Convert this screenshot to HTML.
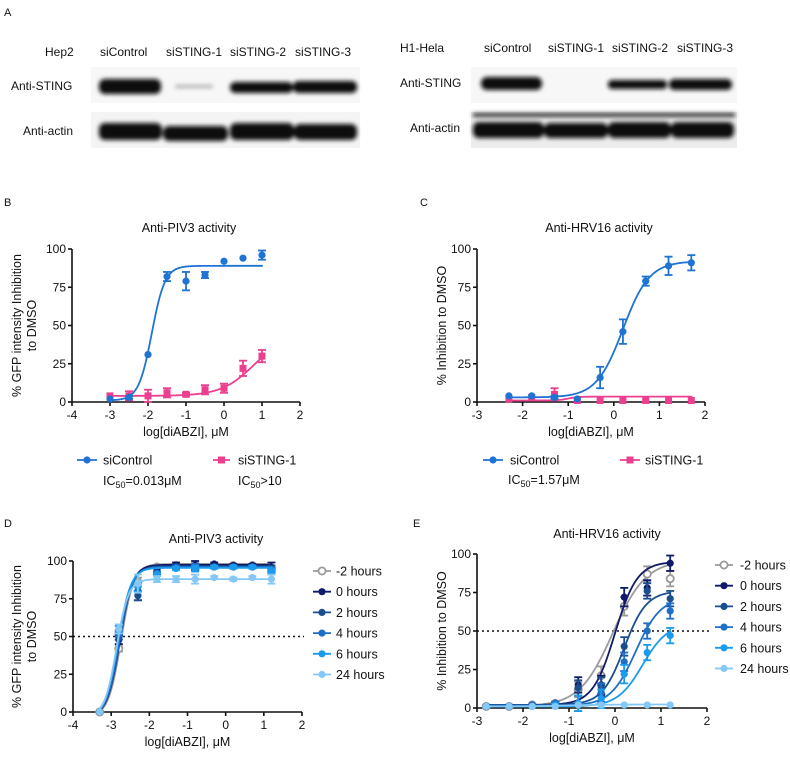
<!DOCTYPE html>
<html><head><meta charset="utf-8">
<style>
html,body{margin:0;padding:0;background:#fff;}
body{width:790px;height:754px;overflow:hidden;font-family:"Liberation Sans",Arial,sans-serif;}
svg text{font-family:"Liberation Sans",Arial,sans-serif;}
</style></head>
<body>
<svg id="fig" width="790" height="754" viewBox="0 0 790 754" xmlns="http://www.w3.org/2000/svg">
<defs>
<filter id="blur2" x="-20%" y="-50%" width="140%" height="200%"><feGaussianBlur stdDeviation="2"/></filter>
</defs>
<!-- Panel A -->
<g font-size="12" fill="#111">
<text x="4" y="16" font-size="11">A</text>
<text x="45" y="56">Hep2</text>
<text x="100" y="56">siControl</text>
<text x="166" y="56">siSTING-1</text>
<text x="230" y="56">siSTING-2</text>
<text x="295" y="56">siSTING-3</text>
<text x="11" y="90">Anti-STING</text>
<text x="23" y="135">Anti-actin</text>
<g>
<rect x="91" y="67" width="269" height="36" fill="#f7f7f7"/>
<g filter="url(#blur2)" fill="#0a0a0a">
<rect x="99" y="79" width="62" height="15" rx="6"/>
<rect x="175" y="85" width="38" height="3" rx="1.5" fill="#aaa"/>
<rect x="230" y="82" width="63" height="11" rx="5"/>
<rect x="293" y="81" width="64" height="12" rx="5"/>
</g></g>
<g>
<rect x="91" y="112" width="269" height="36" fill="#f4f4f4"/>
<g filter="url(#blur2)" fill="#0a0a0a">
<rect x="99" y="123" width="63" height="17" rx="6"/>
<rect x="163" y="126" width="65" height="15" rx="6"/>
<rect x="230" y="123" width="64" height="17" rx="6"/>
<rect x="294" y="124" width="63" height="16" rx="6"/>
</g></g>
<text x="400" y="52">H1-Hela</text>
<text x="484" y="52">siControl</text>
<text x="548" y="52">siSTING-1</text>
<text x="612" y="52">siSTING-2</text>
<text x="677" y="52">siSTING-3</text>
<text x="400" y="87">Anti-STING</text>
<text x="410" y="132">Anti-actin</text>
<g>
<rect x="471" y="67" width="266" height="36" fill="#f7f7f7"/>
<g filter="url(#blur2)" fill="#0a0a0a">
<rect x="481" y="77" width="61" height="13" rx="6"/>
<rect x="608" y="80" width="59" height="9" rx="4"/>
<rect x="669" y="79" width="63" height="11" rx="5"/>
</g></g>
<g>
<rect x="471" y="112" width="266" height="36" fill="#ececec"/>
<g filter="url(#blur2)" fill="#0a0a0a">
<rect x="473" y="113" width="262" height="4" fill="#333"/>
<rect x="473" y="122" width="71" height="16" rx="6"/>
<rect x="544" y="123" width="64" height="15" rx="6"/>
<rect x="608" y="122" width="63" height="16" rx="6"/>
<rect x="671" y="122" width="63" height="16" rx="6"/>
</g></g>
</g>
</svg>
<script>
// ===== Panel B data =====
const bX = [-3,-2.5,-2,-1.5,-1,-0.5,0,0.5,1];
const bCtrlY = [2,3,31,82,79,83,92,94,96];
const bCtrlErr = [0,1,0,3,6,2,0,0,3];
const bStingY = [4,4,4,6,5,8,9,22,30];
const bStingErr = [0,3,4,3,1,3,3,5,4];
const bCtrlFit = [1,89,-1.9,2.5];    // bottom, top, logIC50, hill
const bStingFit = [4,45,0.8,1];
const bXTicks = [-4,-3,-2,-1,0,1,2];
const yTicks = [0,25,50,75,100];
// ===== Panel C data =====
const cX = [-2.3,-1.8,-1.3,-0.8,-0.3,0.2,0.7,1.2,1.7];
const cCtrlY = [4,4,3,2,16,46,79,89,91];
const cCtrlErr = [0,0,1,0,7,8,3,6,5];
const cStingY = [2,3,5,1,1,1,1,1,1];
const cStingErr = [0,0,4,0,0,0,0,0,0];
const cCtrlFit = [3,92,0.2,1.5];
const cStingFit = [1,3.5,-1,4];
const cXTicks = [-3,-2,-1,0,1,2];
// ===== Panel D data =====
const dX = [-3.3,-2.8,-2.3,-1.8,-1.3,-0.8,-0.3,0.2,0.7,1.2];
const dLabels = ["-2 hours","0 hours","2 hours","4 hours","6 hours","24 hours"];
const dM2 = [0,42,86,96,97,97,97,97,97,95];
const d0 = [0,48,80,93,97,97,98,97,97,96];
const d2 = [0,50,77,92,96,96,96,96,96,95];
const d4 = [0,52,83,92,96,96,96,96,96,94];
const d6 = [0,55,83,91,95,95,96,96,96,93];
const d24 = [0,55,85,88,88,88,89,88,89,88];
const dErr = [0,3,6,2,2,3,1,1,1,3];
const dFits = [[-3,98,-2.74,2.6],[-3,97.5,-2.77,2.6],[-3,96.5,-2.78,2.6],[-3,96,-2.79,2.6],[-3,95.5,-2.82,2.6],[-3,88,-2.86,2.8]];
const dXTicks = [-4,-3,-2,-1,0,1,2];
// ===== Panel E data =====
const eX = [-2.8,-2.3,-1.8,-1.3,-0.8,-0.3,0.2,0.7,1.2];
const eM2 = [1,1,2,3,12,21,66,87,84];
const e0 = [1,1,2,3,15,15,72,78,94];
const e2 = [1,1,2,3,13,14,40,76,71];
const e4 = [1,1,2,3,3,10,30,50,63];
const e6 = [1,1,1,2,3,6,22,36,47];
const e24 = [1,1,1,1,2,2,2,2,2];
const eErr = [0,0,0,1,5,6,6,5,5];
const eFits = [[1,96,-0.05,1.2],[2,95,0.0,1.8],[2,76,0.2,1.8],[1.5,72,0.45,1.6],[1,55,0.6,1.6],[1,2.3,-1,1]];
const eXTicks = [-3,-2,-1,0,1,2];

const BLUE="#1f73d2", PINK="#ec3f8f";
const TCOL=["#9a9a9a","#101a6a","#1a4f8f","#1d6fc8","#1b9bee","#85c8f5"];
const NS="http://www.w3.org/2000/svg";
const fig=document.getElementById('fig');
function mk(tag,attrs,parent){const e=document.createElementNS(NS,tag);for(const k in attrs)e.setAttribute(k,attrs[k]);(parent||fig).appendChild(e);return e;}
function txt(s,attrs,parent){const e=mk('text',attrs,parent);e.textContent=s;return e;}
function logistic(f,x){return f[0]+(f[1]-f[0])/(1+Math.pow(10,(f[2]-x)*f[3]));}

function panel(o){
  const g=mk('g',{});
  
  
  const sx=v=>o.x0+(v-o.xmin)/(o.xmax-o.xmin)*(o.x1-o.x0);
  const sy=v=>o.y0-(v/100)*(o.y0-o.y1);
  const lab=txt(o.letter,{x:o.lx,y:o.ly,'font-size':11,fill:'#111'},g);
  
  
  const t=txt(o.title,{x:o.tx,y:o.ty,'font-size':12.5,'text-anchor':'middle',fill:'#111'},g);
  
  
  const ax=mk('g',{stroke:'#111','stroke-width':1.6,fill:'none'},g);
  
  
  mk('line',{x1:o.x0,y1:o.y1,x2:o.x0,y2:o.y0},ax);
  mk('line',{x1:o.x0,y1:o.y0,x2:o.x1,y2:o.y0},ax);
  o.xticks.forEach(v=>{
    mk('line',{x1:sx(v),y1:o.y0,x2:sx(v),y2:o.y0+4},ax);
    const tl=txt(String(v),{x:sx(v),y:o.y0+17,'font-size':12,'text-anchor':'middle',fill:'#111',stroke:'none'},g);
    
    
  });
  yTicks.forEach(v=>{
    mk('line',{x1:o.x0-4,y1:sy(v),x2:o.x0,y2:sy(v)},ax);
    const tl=txt(String(v),{x:o.x0-6,y:sy(v)+4,'font-size':12,'text-anchor':'end',fill:'#111'},g);
    
    
  });
  const xt=txt('log[diABZI], μM',{x:(o.x0+o.x1)/2,y:o.y0+34,'font-size':12.5,'text-anchor':'middle',fill:'#111'},g);
  
  
  const yt=mk('text',{transform:`translate(${o.yx},${(o.y0+o.y1)/2}) rotate(-90)`,'font-size':12.5,'text-anchor':'middle',fill:'#111'},g);
  
  
  o.ytitle.forEach((s,i)=>{const ts=mk('tspan',{x:0,dy:i===0?(o.ytitle.length>1?-3:4):15},yt);ts.textContent=s;});
  if(o.dotted){
    const dl=mk('line',{x1:o.x0,y1:sy(50),x2:o.x1+2,y2:sy(50),stroke:'#111','stroke-width':1.4,'stroke-dasharray':'2,3'},g);
    
    
  }
  o.series.slice().reverse().forEach(s=>{
    const sg=mk('g',{},g);
    
    
    let d='';
    const xa=s.x[0]-0.02, xb=s.x[s.x.length-1]+0.02;
    for(let i=0;i<=160;i++){const xv=xa+(xb-xa)*i/160;d+=(i?'L':'M')+sx(xv).toFixed(2)+','+sy(Math.max(0,logistic(s.fit,xv))).toFixed(2);}
    const p=mk('path',{d:d,stroke:s.color,'stroke-width':1.8,fill:'none'},sg);
    
    
    s.x.forEach((xv,i)=>{
      const cx=sx(xv),cy=sy(s.y[i]),e=s.err[i];
      if(e>0){
        const eg=mk('g',{stroke:s.color,'stroke-width':1.8},sg);
        
        
        mk('line',{x1:cx,y1:sy(s.y[i]+e),x2:cx,y2:sy(s.y[i]-e)},eg);
        mk('line',{x1:cx-4,y1:sy(s.y[i]+e),x2:cx+4,y2:sy(s.y[i]+e)},eg);
        mk('line',{x1:cx-4,y1:sy(s.y[i]-e),x2:cx+4,y2:sy(s.y[i]-e)},eg);
      }
      let m;
      if(s.shape==='square') m=mk('rect',{x:cx-3.5,y:cy-3.5,width:7,height:7,fill:s.color},sg);
      else if(s.shape==='open') m=mk('circle',{cx:cx,cy:cy,r:3.6,fill:'#fff',stroke:s.color,'stroke-width':1.8},sg);
      else m=mk('circle',{cx:cx,cy:cy,r:3.6,fill:s.color},sg);
      
      
    });
  });
  return g;
}
function legendEntry(parent,x1,x2,y,color,shape,label,tx){
  const g=mk('g',{},parent);
  
  
  mk('line',{x1:x1,y1:y,x2:x2,y2:y,stroke:color,'stroke-width':1.8},g);
  const cx=(x1+x2)/2;
  if(shape==='square') mk('rect',{x:cx-3.5,y:y-3.5,width:7,height:7,fill:color},g);
  else if(shape==='open') mk('circle',{cx:cx,cy:y,r:3.6,fill:'#fff',stroke:color,'stroke-width':1.8},g);
  else mk('circle',{cx:cx,cy:y,r:3.6,fill:color},g);
  txt(label,{x:tx,y:y+4.5,'font-size':12.5,fill:'#111'},g);
}
function ic50(parent,x,y,rest,name){
  const t=mk('text',{x:x,y:y,'font-size':12.5,fill:'#111'},parent);
  
  
  const a=mk('tspan',{},t);a.textContent='IC';
  const b=mk('tspan',{dy:3,'font-size':9},t);b.textContent='50';
  const c=mk('tspan',{dy:-3},t);c.textContent=rest;
}

// Panel B
const pB=panel({name:'panel-b',letter:'B',lx:4,ly:206,title:'Anti-PIV3 activity',tx:189,ty:232,
  x0:72,x1:300,y0:402,y1:249,xmin:-4,xmax:2,xticks:bXTicks,yx:24,ytitle:['% GFP intensity Inhibition','to DMSO'],
  series:[{key:'sicontrol',x:bX,y:bCtrlY,err:bCtrlErr,fit:bCtrlFit,color:BLUE,shape:'circle'},
          {key:'sisting1',x:bX,y:bStingY,err:bStingErr,fit:bStingFit,color:PINK,shape:'square'}]});
legendEntry(pB,77,97,460,BLUE,'circle','siControl',103);
legendEntry(pB,213,230,460,PINK,'square','siSTING-1',238);
ic50(pB,103,485,'=0.013μM','ic50-sicontrol-b');
ic50(pB,238,485,'>10','ic50-sisting1-b');

// Panel C
const pC=panel({name:'panel-c',letter:'C',lx:420,ly:206,title:'Anti-HRV16 activity',tx:599,ty:232,
  x0:477,x1:705,y0:402,y1:249,xmin:-3,xmax:2,xticks:cXTicks,yx:442,ytitle:['% Inhibition to DMSO'],
  series:[{key:'sicontrol',x:cX,y:cCtrlY,err:cCtrlErr,fit:cCtrlFit,color:BLUE,shape:'circle'},
          {key:'sisting1',x:cX,y:cStingY,err:cStingErr,fit:cStingFit,color:PINK,shape:'square'}]});
legendEntry(pC,483,503,460,BLUE,'circle','siControl',510);
legendEntry(pC,620,640,460,PINK,'square','siSTING-1',645);
ic50(pC,508,484,'=1.57μM','ic50-sicontrol-c');

// Panel D
const dYs=[dM2,d0,d2,d4,d6,d24];
const pD=panel({name:'panel-d',letter:'D',lx:4,ly:527,title:'Anti-PIV3 activity',tx:216,ty:543,
  x0:73,x1:302,y0:712,y1:561,xmin:-4,xmax:2,xticks:dXTicks,yx:24,ytitle:['% GFP intensity Inhibition','to DMSO'],dotted:true,
  series:dYs.map((y,i)=>({key:'d-'+i,x:dX,y:y,err:dErr.map(e=>i===1||i===5?e:Math.round(e/2)),fit:dFits[i],color:TCOL[i],shape:i===0?'open':'circle'})).reverse()});
dLabels.forEach((l,i)=>legendEntry(pD,313,331,571+i*20.7,TCOL[i],i===0?'open':'circle',l,336));

// Panel E
const eYs=[eM2,e0,e2,e4,e6,e24];
const pE=panel({name:'panel-e',letter:'E',lx:413,ly:527,title:'Anti-HRV16 activity',tx:607,ty:538,
  x0:477,x1:707,y0:708,y1:554,xmin:-3,xmax:2,xticks:eXTicks,yx:442,ytitle:['% Inhibition to DMSO'],dotted:true,
  series:eYs.map((y,i)=>({key:'e-'+i,x:eX,y:y,err:eErr.map(e=>i===5?0:e),fit:eFits[i],color:TCOL[i],shape:i===0?'open':'circle'})).reverse()});
dLabels.forEach((l,i)=>legendEntry(pE,715,733,565+i*20.7,TCOL[i],i===0?'open':'circle',l,740));
</script>
</body></html>
